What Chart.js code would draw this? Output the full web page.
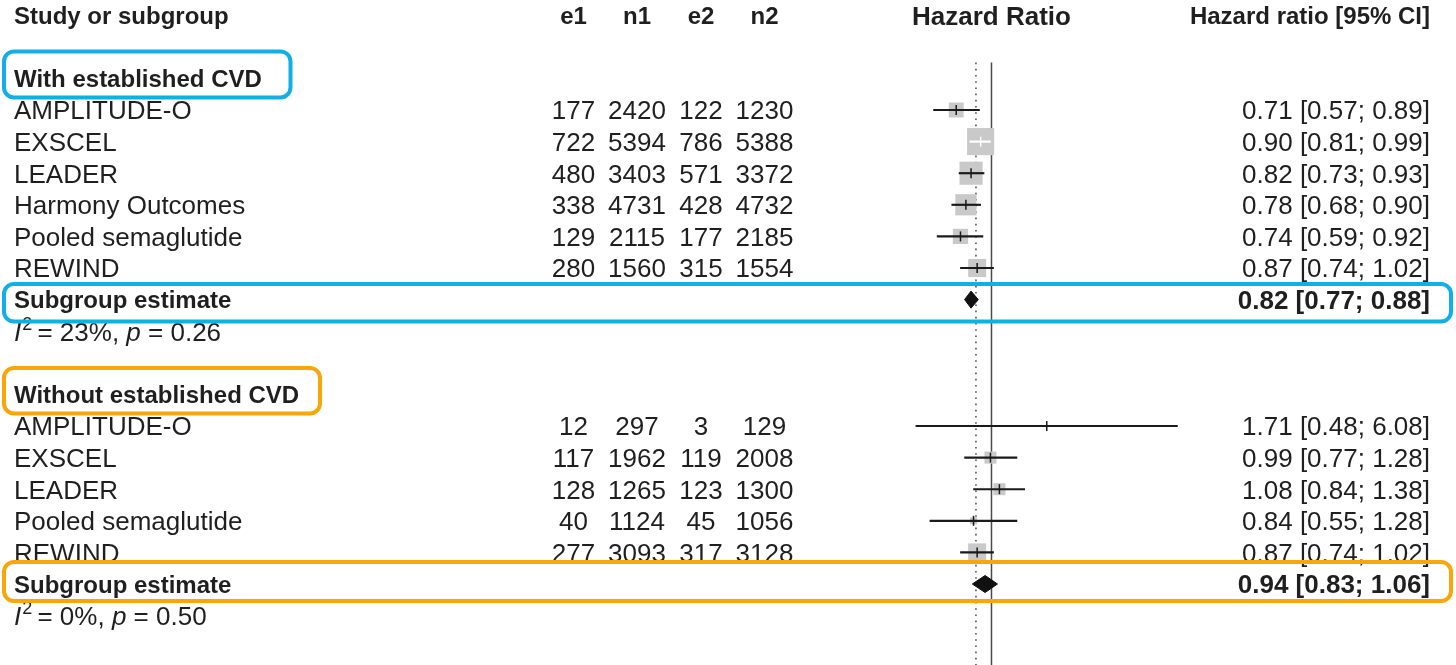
<!DOCTYPE html>
<html>
<head>
<meta charset="utf-8">
<script src="https://cdn.jsdelivr.net/npm/chart.js@4.4.1/dist/chart.umd.min.js"></script>
<style>
html,body{margin:0;padding:0;background:#ffffff;}
#wrap{width:1456px;height:665px;position:relative;overflow:hidden;}
</style>
</head>
<body>
<div id="wrap"><canvas id="c" width="1456" height="665"></canvas></div>
<script>
// ---------------- DATA ----------------
const groupTitles = ['With established CVD', 'Without established CVD'];

const studiesWith = ['AMPLITUDE-O', 'EXSCEL', 'LEADER', 'Harmony Outcomes', 'Pooled semaglutide', 'REWIND'];
const e1With = [177, 722, 480, 338, 129, 280];
const n1With = [2420, 5394, 3403, 4731, 2115, 1560];
const e2With = [122, 786, 571, 428, 177, 315];
const n2With = [1230, 5388, 3372, 4732, 2185, 1554];
const hrWith = [0.71, 0.90, 0.82, 0.78, 0.74, 0.87];
const loWith = [0.57, 0.81, 0.73, 0.68, 0.59, 0.74];
const hiWith = [0.89, 0.99, 0.93, 0.90, 0.92, 1.02];
const weightWith = [8.9, 29.4, 21.4, 18.0, 9.3, 13.0];

const studiesWithout = ['AMPLITUDE-O', 'EXSCEL', 'LEADER', 'Pooled semaglutide', 'REWIND'];
const e1Without = [12, 117, 128, 40, 277];
const n1Without = [297, 1962, 1265, 1124, 3093];
const e2Without = [3, 119, 123, 45, 317];
const n2Without = [129, 2008, 1300, 1056, 3128];
const hrWithout = [1.71, 0.99, 1.08, 0.84, 0.87];
const loWithout = [0.48, 0.77, 0.84, 0.55, 0.74];
const hiWithout = [6.08, 1.28, 1.38, 1.28, 1.02];
const weightWithout = [0.3, 5.8, 5.8, 2.0, 13.0];

const subgroupHR = [0.82, 0.94];
const subgroupLo = [0.77, 0.83];
const subgroupHi = [0.88, 1.06];
const heteroI2 = ['23%', '0%'];
const heteroP = ['0.26', '0.50'];

const overallHR = 0.86;
const xAxisMin = 0.4533, xAxisMax = 6.545;
const columnHeaders = ['Study or subgroup', 'e1', 'n1', 'e2', 'n2', 'Hazard Ratio', 'Hazard ratio [95% CI]'];

// ---------------- ROW LAYOUT ----------------
const rowHeader = -3;
const rowTitle = [-1, 9];
const rowsWith = studiesWith.map((_, i) => i);
const rowsWithout = studiesWithout.map((_, i) => 10 + i);
const rowSub = [6, 15];
const rowHet = [7, 16];
const yMin = -3.481, yMax = 17.563;

const allHR = hrWith.concat(hrWithout);
const allLo = loWith.concat(loWithout);
const allHi = hiWith.concat(hiWithout);
const allW = weightWith.concat(weightWithout);
const allRows = rowsWith.concat(rowsWithout);

const boxSide = w => 5 * Math.sqrt(w);
const fmt = v => v.toFixed(2);

function inside(chart, i) {
  const xs = chart.scales.x;
  const c = xs.getPixelForValue(allHR[i]);
  const half = boxSide(allW[i]) / 2;
  return xs.getPixelForValue(allLo[i]) >= c - half && xs.getPixelForValue(allHi[i]) <= c + half;
}
const ciColor = ctx => inside(ctx.chart, ctx.dataIndex) ? '#ffffff' : '#1a1a1a';

const diamondSets = subgroupHR.map((hr, g) => ({
  type: 'line',
  data: [
    {x: subgroupLo[g], y: rowSub[g]},
    {x: hr, y: rowSub[g] - 0.27},
    {x: subgroupHi[g], y: rowSub[g]},
    {x: hr, y: rowSub[g] + 0.27},
    {x: subgroupLo[g], y: rowSub[g]}
  ],
  borderColor: '#111111', borderWidth: 1, backgroundColor: '#111111',
  fill: 'shape', pointRadius: 0, tension: 0, order: 1
}));

const datasets = [
  { // null line HR = 1
    type: 'line',
    data: [{x: 1, y: -1.5}, {x: 1, y: yMax}],
    borderColor: '#4a4a4a', borderWidth: 1.5, pointRadius: 0, fill: false, order: 6
  },
  { // overall estimate dotted line
    type: 'line',
    data: [{x: overallHR, y: -1.5}, {x: overallHR, y: yMax}],
    borderColor: '#555555', borderWidth: 1.6, borderDash: [1.6, 4.6], pointRadius: 0, fill: false, order: 7
  },
  { // weight boxes
    type: 'scatter',
    data: allHR.map((v, i) => ({x: v, y: allRows[i]})),
    pointStyle: 'rect',
    pointRadius: allW.map(w => boxSide(w) / Math.SQRT2),
    pointBackgroundColor: '#c9c9c9', pointBorderWidth: 0, order: 5
  },
  { // confidence intervals
    type: 'bar', indexAxis: 'y',
    data: allHR.map((v, i) => ({x: [allLo[i], allHi[i]], y: allRows[i]})),
    backgroundColor: ciColor, borderWidth: 0, barThickness: 1.5, grouped: false, order: 4
  },
  { // point estimate ticks
    type: 'scatter',
    data: allHR.map((v, i) => ({x: v, y: allRows[i]})),
    pointStyle: 'line', pointRotation: 90, pointRadius: 5,
    pointBorderColor: ciColor, pointBorderWidth: 1.5, order: 3
  }
].concat(diamondSets);

// ---------------- TEXT + ANNOTATION PLUGIN ----------------
const FONT = '"Liberation Sans", Arial, Helvetica, sans-serif';
const INK = '#1f1f1f';
const colCenters = [573.5, 637, 701, 764.5];

const textPlugin = {
  id: 'forestText',
  afterDraw(chart) {
    const ctx = chart.ctx;
    const ys = chart.scales.y;
    const yb = (row, size) => ys.getPixelForValue(row) + 0.36 * size;
    function txt(s, x, row, size, weight, align, style) {
      ctx.font = (style || '') + ' ' + (weight || 'normal') + ' ' + size + 'px ' + FONT;
      ctx.textAlign = align || 'left';
      ctx.textBaseline = 'alphabetic';
      ctx.fillStyle = INK;
      ctx.fillText(s, x, yb(row, size));
    }
    ctx.save();
    // headers
    txt(columnHeaders[0], 14, rowHeader, 24, 'bold');
    for (let k = 0; k < 4; k++) txt(columnHeaders[1 + k], colCenters[k], rowHeader, 24, 'bold', 'center');
    txt(columnHeaders[5], 991.5, rowHeader, 26, 'bold', 'center');
    txt(columnHeaders[6], 1430, rowHeader, 24, 'bold', 'right');

    const groups = [
      {names: studiesWith, rows: rowsWith, cols: [e1With, n1With, e2With, n2With], hr: hrWith, lo: loWith, hi: hiWith},
      {names: studiesWithout, rows: rowsWithout, cols: [e1Without, n1Without, e2Without, n2Without], hr: hrWithout, lo: loWithout, hi: hiWithout}
    ];
    groups.forEach((g, gi) => {
      txt(groupTitles[gi], 14, rowTitle[gi], 24, 'bold');
      g.names.forEach((n, i) => {
        const r = g.rows[i];
        txt(n, 14, r, 26);
        g.cols.forEach((col, k) => txt(String(col[i]), colCenters[k], r, 26, 'normal', 'center'));
        txt(fmt(g.hr[i]) + ' [' + fmt(g.lo[i]) + '; ' + fmt(g.hi[i]) + ']', 1430, r, 26, 'normal', 'right');
      });
      txt('Subgroup estimate', 14, rowSub[gi], 24, 'bold');
      txt(fmt(subgroupHR[gi]) + ' [' + fmt(subgroupLo[gi]) + '; ' + fmt(subgroupHi[gi]) + ']', 1430, rowSub[gi], 26, 'bold', 'right');
      // heterogeneity line
      const base = yb(rowHet[gi], 26);
      let x = 14;
      ctx.textAlign = 'left'; ctx.fillStyle = INK;
      ctx.font = 'italic 26px ' + FONT; ctx.fillText('I', x, base); x += ctx.measureText('I').width + 1;
      ctx.font = '18px ' + FONT; ctx.fillText('2', x, base - 11); x += ctx.measureText('2').width - 2;
      ctx.font = '26px ' + FONT; let s = ' = ' + heteroI2[gi] + ', '; ctx.fillText(s, x, base); x += ctx.measureText(s).width;
      ctx.font = 'italic 26px ' + FONT; ctx.fillText('p', x, base); x += ctx.measureText('p').width;
      ctx.font = '26px ' + FONT; ctx.fillText(' = ' + heteroP[gi], x, base);
    });

    // highlight boxes
    function box(x0, x1, row, dTop, dBot, color) {
      const c = ys.getPixelForValue(row);
      ctx.beginPath();
      ctx.lineWidth = 4;
      ctx.strokeStyle = color;
      ctx.roundRect(x0, c + dTop, x1 - x0, dBot - dTop, 10);
      ctx.stroke();
    }
    const BLUE = '#11aee8', ORANGE = '#f8a608';
    box(4, 290.5, rowTitle[0], -27, 19, BLUE);
    box(4, 1451, rowSub[0], -15.6, 22, BLUE);
    box(4, 320, rowTitle[1], -26.4, 19, ORANGE);
    box(4, 1451, rowSub[1], -22, 17, ORANGE);
    ctx.restore();
  }
};

new Chart(document.getElementById('c'), {
  type: 'scatter',
  data: { datasets },
  options: {
    responsive: false,
    animation: false,
    events: [],
    layout: { padding: { left: 910, right: 271, top: 0, bottom: 0 }, autoPadding: false },
    scales: {
      x: { type: 'logarithmic', min: xAxisMin, max: xAxisMax, display: false, offset: false },
      y: { type: 'linear', min: yMin, max: yMax, reverse: true, display: false, offset: false, grace: 0 }
    },
    plugins: { legend: { display: false }, tooltip: { enabled: false } }
  },
  plugins: [textPlugin]
});
</script>
</body>
</html>
